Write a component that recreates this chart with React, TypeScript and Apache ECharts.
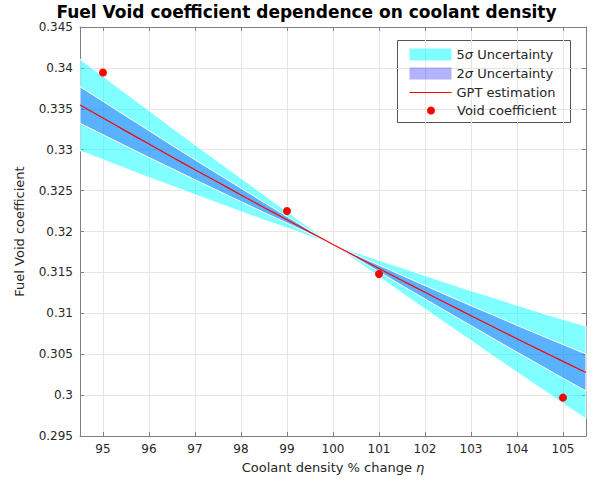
import React, { useEffect, useRef } from "react";
import * as echarts from "echarts";

// coolant density % change (eta)
const etaValues = [94.5, 95, 95.5, 96, 96.5, 97, 97.5, 98, 98.5, 99, 99.5, 100, 100.5, 101, 101.5, 102, 102.5, 103, 103.5, 104, 104.5, 105, 105.5];
// GPT estimation (mean)
const gptMean = [0.33547, 0.33387, 0.33227, 0.33069, 0.32911, 0.32755, 0.32601, 0.32447, 0.32294, 0.32143, 0.31992, 0.31842, 0.31694, 0.31548, 0.31401, 0.31257, 0.31113, 0.30971, 0.3083, 0.30689, 0.3055, 0.30412, 0.30276];
// GPT standard deviation
const gptSigma = [0.00112, 0.00102, 0.00092, 0.00082, 0.00071, 0.00061, 0.00051, 0.00041, 0.00031, 0.0002, 0.0001, 0.0, 0.0001, 0.0002, 0.00031, 0.00041, 0.00051, 0.00061, 0.00072, 0.00082, 0.00092, 0.00103, 0.00113];
// measured void coefficient points
const pointEta = [95, 99, 101, 105];
const pointVoid = [0.33944, 0.3225, 0.31481, 0.29969];

const FONT = "DejaVu Sans";
const TXT = "#262626";
const AXIS = "#808080";
const GRID = "#e5e5e5";

function bandSeries(name: string, k: number, fill: string) {
  return {
    name,
    type: "custom",
    coordinateSystem: "cartesian2d",
    xAxisIndex: 0,
    yAxisIndex: 0,
    itemStyle: { color: fill },
    data: [[100, 0.318]],
    encode: { x: 0, y: 1 },
    renderItem: (params: any, api: any) => {
      if (params.dataIndex !== 0) return null;
      const upper = etaValues.map((x, i) => api.coord([x, gptMean[i] + k * gptSigma[i]]));
      const lower = etaValues.map((x, i) => api.coord([x, gptMean[i] - k * gptSigma[i]])).reverse();
      return {
        type: "polygon",
        shape: { points: upper.concat(lower) },
        style: { fill, stroke: "#ffffff", lineWidth: 1 },
      };
    },
    z: k === 5 ? 1 : 2,
  };
}

export default function App() {
  const ref = useRef<HTMLDivElement>(null);
  useEffect(() => {
    if (!ref.current) return;
    const chart = echarts.init(ref.current, null, { renderer: "svg" });
    const rich = { i: { fontStyle: "italic", fontFamily: FONT, fontSize: 13, color: TXT } };
    chart.setOption({
      animation: false,
      backgroundColor: "#ffffff",
      title: {
        text: "Fuel Void coefficient dependence on coolant density",
        left: "center",
        top: -2,
        textStyle: { fontFamily: FONT, fontSize: 17, fontWeight: "bold", color: "#000000" },
      },
      grid: { left: 80, right: 27, top: 27, bottom: 46, containLabel: false },
      legend: [
        {
          data: [
            { name: "5σ Uncertainty", icon: "rect", itemStyle: { color: "rgba(0,255,255,0.5)" } },
            { name: "2σ Uncertainty", icon: "rect", itemStyle: { color: "rgba(0,0,255,0.3)" } },
            {
              name: "GPT estimation",
              itemStyle: { opacity: 0 },
              lineStyle: { color: "#ff0000", width: 1 },
            },
          ],
          orient: "vertical",
          left: 409,
          top: 48,
          padding: 0,
          itemWidth: 42,
          itemHeight: 12,
          itemGap: 6,
          textStyle: { fontFamily: FONT, fontSize: 13, color: TXT, rich },
          formatter: (n: string) => n.replace("σ", "{i|σ}"),
        },
        {
          data: [{ name: "Void coefficient", icon: "circle", itemStyle: { color: "#ff0000", opacity: 1 } }],
          orient: "vertical",
          left: 422,
          top: 99,
          itemWidth: 42,
          itemHeight: 8,
          textStyle: { fontFamily: FONT, fontSize: 13, color: TXT },
        },
      ],
      xAxis: [
        {
          type: "value",
          min: 94.5,
          max: 105.5,
          splitNumber: 11,
          name: "Coolant density % change {i|η}",
          nameLocation: "middle",
          nameGap: 25,
          nameTextStyle: { fontFamily: FONT, fontSize: 13, color: TXT, rich },
          axisLine: { lineStyle: { color: AXIS } },
          axisTick: { inside: true, length: 4, lineStyle: { color: AXIS } },
          axisLabel: { fontFamily: FONT, fontSize: 12, color: TXT, margin: 7, showMinLabel: false, showMaxLabel: false },
          splitLine: { show: true, lineStyle: { color: GRID } },
        },
        {
          type: "value",
          position: "top",
          min: 94.5,
          max: 105.5,
          splitNumber: 11,
          axisLine: { lineStyle: { color: AXIS } },
          axisTick: { inside: true, length: 4, lineStyle: { color: AXIS } },
          axisLabel: { show: false },
          splitLine: { show: false },
        },
      ],
      yAxis: [
        {
          type: "value",
          min: 0.295,
          max: 0.345,
          interval: 0.005,
          name: "Fuel Void coefficient",
          nameLocation: "middle",
          nameGap: 54,
          nameTextStyle: { fontFamily: FONT, fontSize: 13, color: TXT },
          axisLine: { show: true, lineStyle: { color: AXIS } },
          axisTick: { show: true, inside: true, length: 4, lineStyle: { color: AXIS } },
          axisLabel: { fontFamily: FONT, fontSize: 12, color: TXT, margin: 7 },
          splitLine: { show: true, lineStyle: { color: GRID } },
        },
        {
          type: "value",
          position: "right",
          min: 0.295,
          max: 0.345,
          interval: 0.005,
          axisLine: { show: true, lineStyle: { color: AXIS } },
          axisTick: { show: true, inside: true, length: 4, lineStyle: { color: AXIS } },
          axisLabel: { show: false },
          splitLine: { show: false },
        },
      ],
      series: [
        bandSeries("5σ Uncertainty", 5, "rgba(0,255,255,0.5)"),
        bandSeries("2σ Uncertainty", 2, "rgba(0,0,255,0.3)"),
        {
          name: "GPT estimation",
          type: "line",
          data: etaValues.map((x, i) => [x, gptMean[i]]),
          symbol: "none",
          smooth: true,
          lineStyle: { color: "#ff0000", width: 1.2 },
          itemStyle: { color: "#ff0000" },
          z: 3,
        },
        {
          name: "Void coefficient",
          type: "scatter",
          data: pointEta.map((x, i) => [x, pointVoid[i]]),
          symbol: "circle",
          symbolSize: 8,
          itemStyle: { color: "#ff0000", opacity: 1 },
          z: 4,
        },
      ],
      graphic: [
        {
          type: "rect",
          shape: { x: 397.5, y: 40.5, width: 173, height: 82 },
          style: { fill: "#ffffff", stroke: "#555555", lineWidth: 1 },
          z: 0,
          zlevel: 0,
        },
      ],
    });
    return () => chart.dispose();
  }, []);
  return <div ref={ref} style={{ width: 613, height: 482, position: "absolute", left: 0, top: 0 }} />;
}
